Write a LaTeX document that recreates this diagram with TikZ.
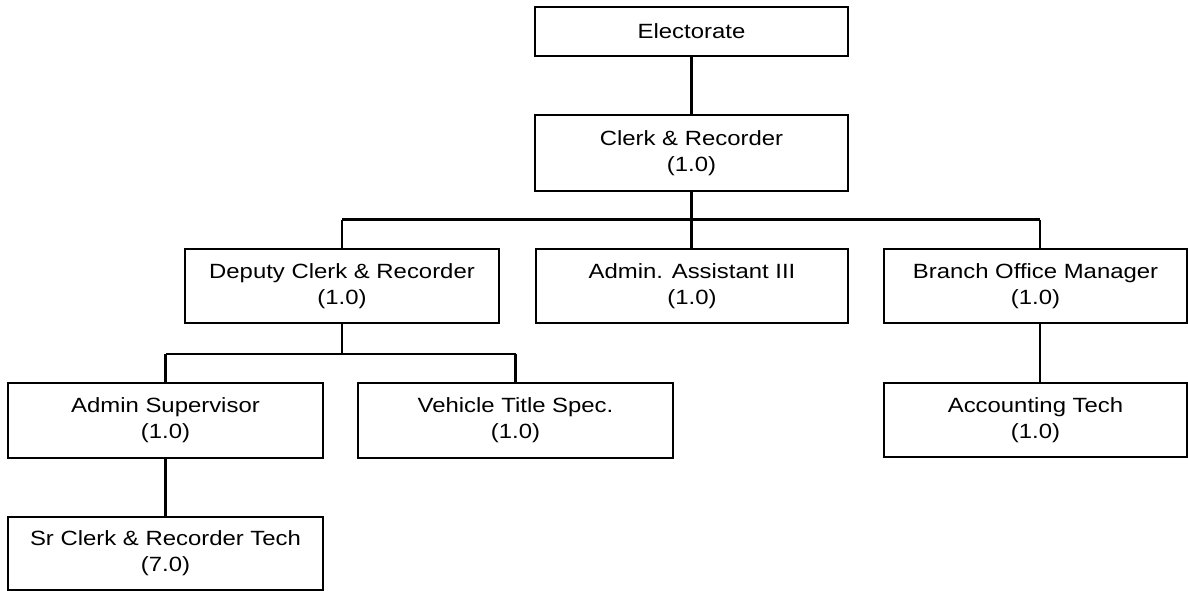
\documentclass[tikz,border=0pt]{standalone}
\usepackage{fontspec}
\newfontfamily\boxfont{Liberation Sans}[FakeStretch=1.16]
\begin{document}
\begin{tikzpicture}[x=1pt,y=-1pt,
  box/.style={draw=black,line width=2.7pt,fill=white,align=center,inner sep=0pt,
    font=\boxfont\fontsize{20.6}{26}\selectfont},
  conn/.style={draw=black,line width=2.7pt}]
\useasboundingbox (0,0) rectangle (1188,591);
\clip (0,0) rectangle (1188,591);
\node[box,minimum width=313pt,minimum height=49pt] (elect) at (691.5,31.5) {Electorate};
\node[box,minimum width=313pt,minimum height=76pt] (clerk) at (691.5,153) {Clerk \& Recorder\\(1.0)};
\node[box,minimum width=314pt,minimum height=74pt] (deputy) at (342,286) {Deputy Clerk \& Recorder\\(1.0)};
\node[box,minimum width=312pt,minimum height=74pt] (asst) at (692,286) {Admin. Assistant III\\(1.0)};
\node[box,minimum width=303pt,minimum height=74pt] (branch) at (1035.5,286) {Branch Office Manager\\(1.0)};
\node[box,minimum width=315pt,minimum height=75pt] (supv) at (165.5,420.5) {Admin Supervisor\\(1.0)};
\node[box,minimum width=315pt,minimum height=75pt] (veh) at (515.5,420.5) {Vehicle Title Spec.\\(1.0)};
\node[box,minimum width=303pt,minimum height=74pt] (acct) at (1035.5,420) {Accounting Tech\\(1.0)};
\node[box,minimum width=315pt,minimum height=73pt] (sr) at (165.5,553.5) {Sr Clerk \& Recorder Tech\\(7.0)};
\coordinate (b1) at (691.5,219.5);
\coordinate (b1l) at (342,219.5);
\coordinate (b1r) at (1040,219.5);
\coordinate (b2) at (342,354);
\coordinate (b2l) at (165.5,354);
\coordinate (b2r) at (515.5,354);
\draw[conn] (elect.south) -- (clerk.north);
\draw[conn] (clerk.south) -- (b1);
\draw[conn] (b1l) -- (b1r);
\draw[conn] (b1l) -- (deputy.north);
\draw[conn] (b1) -- (asst.north -| b1);
\draw[conn] (b1r) -- (b1r |- branch.north);
\draw[conn] (deputy.south) -- (b2);
\draw[conn] (b2l) -- (b2r);
\draw[conn] (b2l) -- (supv.north);
\draw[conn] (b2r) -- (veh.north);
\draw[conn] (b1r |- branch.south) -- (b1r |- acct.north);
\draw[conn] (supv.south) -- (sr.north);
\end{tikzpicture}
\end{document}
